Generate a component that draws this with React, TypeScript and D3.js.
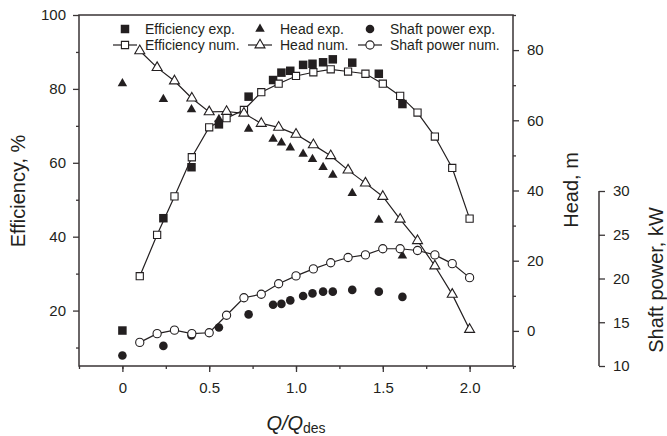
import React, { useRef, useEffect } from 'react'
import * as d3 from 'd3'

// experimental points (Q/Qdes)
const qExp = [0, 0.236, 0.398, 0.556, 0.727, 0.868, 0.916, 0.967, 1.041, 1.095, 1.156, 1.212, 1.324, 1.477, 1.613]
const effExp = [14.6, 45.0, 58.8, 70.4, 77.9, 82.4, 84.4, 84.9, 86.5, 86.8, 87.2, 88.0, 87.1, 84.1, 75.9]
const headExp = [70.5, 66.0, 63.1, 60.3, 57.5, 54.7, 53.6, 52.2, 50.4, 48.9, 46.6, 44.4, 39.2, 31.6, 21.4]
const powerExp = [11.2, 12.3, 13.5, 14.4, 15.9, 17.0, 17.1, 17.5, 18.0, 18.3, 18.5, 18.5, 18.7, 18.5, 17.9]

// numerical points
const qNum = [0.1, 0.2, 0.3, 0.4, 0.5, 0.6, 0.7, 0.8, 0.9, 1.0, 1.1, 1.2, 1.3, 1.4, 1.5, 1.6, 1.7, 1.8, 1.9, 2.0]
const effNum = [29.3, 40.5, 50.9, 61.5, 69.6, 72.1, 74.3, 79.1, 81.4, 83.5, 84.5, 85.3, 84.7, 84.1, 81.4, 78.1, 73.6, 67.1, 58.6, 44.9]
const headNum = [79.8, 75.0, 71.2, 66.3, 62.4, 62.5, 62.0, 59.1, 58.0, 56.0, 53.0, 49.9, 45.8, 42.1, 38.3, 31.8, 25.7, 18.5, 10.4, 0.4]
const powerNum = [12.7, 13.7, 14.1, 13.7, 13.8, 15.8, 17.8, 18.2, 19.4, 20.3, 21.1, 21.8, 22.4, 22.7, 23.4, 23.4, 23.2, 22.7, 21.7, 20.1]

const xTicks = [0, 0.5, 1.0, 1.5, 2.0]
const effTicks = [20, 40, 60, 80, 100]
const headTicks = [0, 20, 40, 60, 80]
const powerTicks = [10, 15, 20, 25, 30]

const legendItems = [
  { label: 'Efficiency exp.', shape: 'square', filled: true },
  { label: 'Efficiency num.', shape: 'square', filled: false },
  { label: 'Head exp.', shape: 'triangle', filled: true },
  { label: 'Head num.', shape: 'triangle', filled: false },
  { label: 'Shaft power exp.', shape: 'circle', filled: true },
  { label: 'Shaft power num.', shape: 'circle', filled: false },
]

export default function App() {
  const svgRef = useRef<SVGSVGElement>(null)

  useEffect(() => {
    const width = 667
    const height = 436
    const ink = '#231f20'
    const axisColor = '#3a3536'
    const font = 'Liberation Sans, Arial, sans-serif'

    const svg = d3.select(svgRef.current)
    svg.selectAll('*').remove()
    svg.attr('width', width).attr('height', height)

    const left = 79, right = 513, top = 15, bottom = 366

    const x = d3.scaleLinear().domain([-0.25, 2.25]).range([left, right])
    const yEff = d3.scaleLinear().domain([5, 100]).range([bottom, top])
    const yHead = d3.scaleLinear().domain([-10, 90]).range([bottom, top])
    const yPow = d3.scaleLinear().domain([10, 30]).range([bottom, 191])

    const styleAxis = (g: any) => {
      g.select('.domain').remove()
      g.selectAll('line').attr('stroke', axisColor).attr('stroke-width', 1.3)
      g.selectAll('text').attr('fill', ink).attr('font-family', font).attr('font-size', 15)
    }

    // frame
    svg.append('path')
      .attr('d', `M${left},${top}H${right}V${bottom}H${left}Z`)
      .attr('fill', 'none').attr('stroke', axisColor).attr('stroke-width', 1.5)

    // bottom axis
    svg.append('g').attr('transform', `translate(0,${bottom})`)
      .call(d3.axisBottom(x).tickValues(d3.range(-0.25, 2.26, 0.25)).tickSize(3).tickFormat(() => ''))
      .call(styleAxis)
    svg.append('g').attr('transform', `translate(0,${bottom})`)
      .call(d3.axisBottom(x).tickValues(xTicks).tickSize(6).tickPadding(10).tickFormat(d3.format('.1f')))
      .call(styleAxis)
      .selectAll('text').text((d: any) => (d === 0 ? '0' : d3.format('.1f')(d)))

    // left axis
    svg.append('g').attr('transform', `translate(${left},0)`)
      .call(d3.axisLeft(yEff).tickValues([10, 30, 50, 70, 90]).tickSize(3).tickFormat(() => ''))
      .call(styleAxis)
    svg.append('g').attr('transform', `translate(${left},0)`)
      .call(d3.axisLeft(yEff).tickValues(effTicks).tickSize(6).tickPadding(7))
      .call(styleAxis)

    // head axis (right of frame)
    svg.append('g').attr('transform', `translate(${right},0)`)
      .call(d3.axisRight(yHead).tickValues([-10, 10, 30, 50, 70, 90]).tickSize(3).tickFormat(() => ''))
      .call(styleAxis)
    svg.append('g').attr('transform', `translate(${right},0)`)
      .call(d3.axisRight(yHead).tickValues(headTicks).tickSize(6).tickPadding(8))
      .call(styleAxis)

    // shaft power axis
    const powAxis = svg.append('g').attr('transform', 'translate(599,0)')
      .call(d3.axisRight(yPow).tickValues(powerTicks).tickSize(6).tickPadding(8))
      .call(styleAxis)
    powAxis.append('line')
      .attr('y1', yPow(10)).attr('y2', yPow(30))
      .attr('stroke', axisColor).attr('stroke-width', 1.5)

    // axis titles
    const title = (tx: number, ty: number, rot: number, text: string) =>
      svg.append('text')
        .attr('transform', `translate(${tx},${ty}) rotate(${rot})`)
        .attr('text-anchor', 'middle')
        .attr('font-family', font).attr('font-size', 20).attr('fill', ink)
        .text(text)
    title(25, 191, -90, 'Efficiency, %')
    title(578, 190, -90, 'Head, m')
    title(663, 280, -90, 'Shaft power, kW')

    const xt = svg.append('text')
      .attr('x', 296).attr('y', 430)
      .attr('text-anchor', 'middle')
      .attr('font-family', font).attr('font-size', 20).attr('fill', ink)
    xt.append('tspan').attr('font-style', 'italic').text('Q/Q')
    xt.append('tspan').attr('font-size', 14).attr('dy', 3).text('des')

    // markers
    const sq = (s: number) => d3.symbol().type(d3.symbolSquare).size(s * s)
    const tri = (w: number) => d3.symbol().type(d3.symbolTriangle).size(w * w * Math.sqrt(3) / 4)
    const symbols: any = {
      square: { filled: sq(8.5), open: sq(7.2) },
      triangle: { filled: tri(9.5), open: tri(10) },
      circle: { filled: null, open: null },
    }

    const drawMarker = (g: any, shape: string, filled: boolean, cx: number, cy: number) => {
      if (shape === 'circle') {
        g.append('circle')
          .attr('cx', cx).attr('cy', cy).attr('r', filled ? 4.3 : 4.1)
          .attr('fill', filled ? ink : '#fff')
          .attr('stroke', ink).attr('stroke-width', filled ? 0 : 1.1)
      } else {
        g.append('path')
          .attr('d', symbols[shape][filled ? 'filled' : 'open']())
          .attr('transform', `translate(${cx},${cy})`)
          .attr('fill', filled ? ink : '#fff')
          .attr('stroke', ink).attr('stroke-width', filled ? 0 : 1.1)
      }
    }

    const line = (ys: number[], scale: any) =>
      d3.line<number>().x((d, i) => x(qNum[i])).y(d => scale(d))(ys)

    const numSeries = [
      { ys: effNum, scale: yEff, shape: 'square' },
      { ys: headNum, scale: yHead, shape: 'triangle' },
      { ys: powerNum, scale: yPow, shape: 'circle' },
    ]
    const expSeries = [
      { ys: effExp, scale: yEff, shape: 'square' },
      { ys: headExp, scale: yHead, shape: 'triangle' },
      { ys: powerExp, scale: yPow, shape: 'circle' },
    ]

    const plot = svg.append('g')
    numSeries.forEach(s => {
      plot.append('path').attr('d', line(s.ys, s.scale))
        .attr('fill', 'none').attr('stroke', ink).attr('stroke-width', 1.2)
    })
    expSeries.forEach(s => {
      s.ys.forEach((v, i) => drawMarker(plot, s.shape, true, x(qExp[i]), s.scale(v)))
    })
    numSeries.forEach(s => {
      s.ys.forEach((v, i) => drawMarker(plot, s.shape, false, x(qNum[i]), s.scale(v)))
    })

    // legend
    const lg = svg.append('g')
    const colX = [125, 260, 370]
    const rowY = [29, 45]
    legendItems.forEach((item, i) => {
      const cx = colX[Math.floor(i / 2)]
      const cy = rowY[i % 2]
      if (!item.filled) {
        lg.append('line').attr('x1', cx - 12).attr('x2', cx + 12).attr('y1', cy).attr('y2', cy)
          .attr('stroke', ink).attr('stroke-width', 1.2)
      }
      drawMarker(lg, item.shape, item.filled, cx, cy)
      lg.append('text')
        .attr('x', cx + 20).attr('y', cy + 5)
        .attr('font-family', font).attr('font-size', 14).attr('fill', ink)
        .text(item.label)
    })
  }, [])

  return (
    <div style={{ position: 'absolute', left: 0, top: 0, background: '#fff' }}>
      <svg ref={svgRef} style={{ display: 'block' }} role="img" aria-label="Pump efficiency, head and shaft power versus flow ratio" />
    </div>
  )
}
